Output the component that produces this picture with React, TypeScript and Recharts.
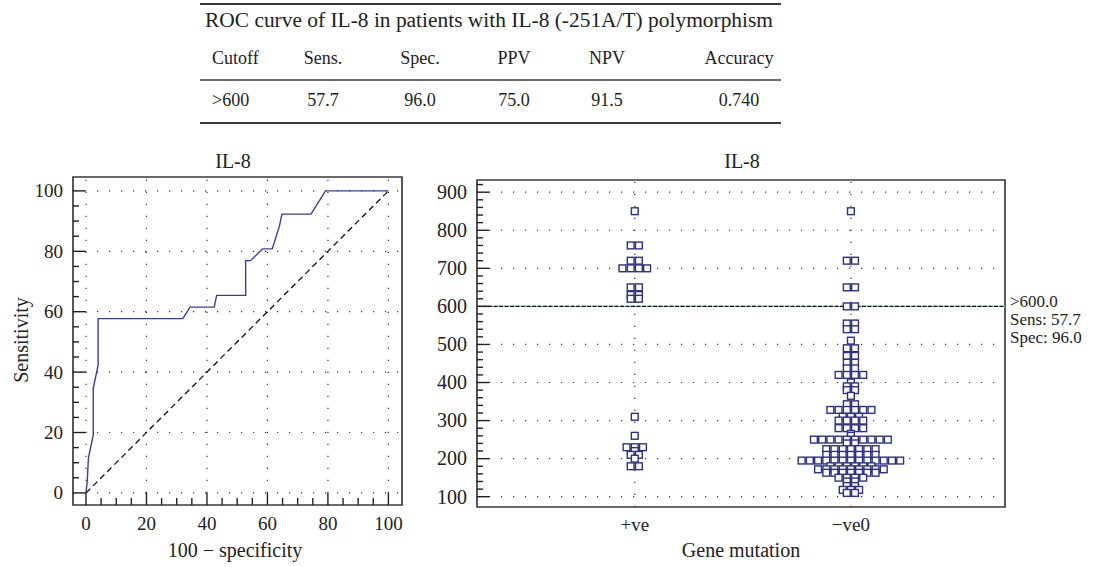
import React from "react"
import {
  ComposedChart,
  Line,
  ReferenceArea,
  ReferenceLine,
  Scatter,
  ScatterChart,
  XAxis,
  YAxis,
} from "recharts"

// Two panels: ROC curve of IL-8 (left) and a dot plot of IL-8 levels by
// gene mutation status with the >600 cutoff (right), under a small table.

const FONT = '"Liberation Serif", "Times New Roman", serif'
const INK = "#222"
const FRAME = "#3a3a3a"
const ROC_BLUE = "#3a3f9c"
const NAVY = "#2d3088"

// table
const TABLE_TITLE = "ROC curve of IL-8 in patients with IL-8 (-251A/T) polymorphism"
const TABLE_HEADERS = ["Cutoff", "Sens.", "Spec.", "PPV", "NPV", "Accuracy"]
const TABLE_VALUES = [">600", "57.7", "96.0", "75.0", "91.5", "0.740"]

// ROC curve: 100 - specificity vs sensitivity
const ROC_FPR = [0, 0.4, 0.8, 2.4, 2.4, 4, 4, 32, 34.4, 42.4, 43.2, 52.8, 52.8, 54.4, 58.4, 61.6, 64, 64.8, 74.4, 79.2, 100]
const ROC_SENS = [0, 3.8, 11.5, 19.2, 34.6, 42.3, 57.7, 57.7, 61.5, 61.5, 65.4, 65.4, 76.9, 76.9, 80.8, 80.8, 88.5, 92.3, 92.3, 100, 100]
const DIAGONAL = [0, 100]
const ROC_TICKS = [0, 5, 10, 15, 20, 25, 30, 35, 40, 45, 50, 55, 60, 65, 70, 75, 80, 85, 90, 95, 100]
const ROC_GRID = [0, 20, 40, 60, 80, 100]
const ROC_X_DOMAIN: [number, number] = [-4.3, 104.5]
const ROC_Y_DOMAIN: [number, number] = [-4, 104.6]

// dot plot: IL-8 values per group
const GROUP_POS = [1, 2]
const GROUP_LABELS = ["+ve", "\u2212ve0"]
const POS_VALUES = [
  850, 760, 760, 720, 720, 700, 700, 700, 700, 650, 650, 630, 630, 620, 620,
  310, 260, 230, 230, 230, 220, 210, 210, 200, 180, 180,
]
const NEG_VALUES = [
  850, 720, 720, 650, 650, 600, 600,
  555, 555, 540, 540, 510, 490, 490, 470, 470, 452, 452, 437, 437,
  420, 420, 420, 420, 400, 390, 390, 380, 380, 365,
  343, 343, 328, 328, 328, 328, 328, 328, 310, 310, 310, 300, 300, 300, 300,
  280, 280, 280, 280, 265, 260,
  250, 250, 250, 250, 250, 250, 250, 250, 250, 250, 240, 240,
  225, 225, 225, 225, 225, 225, 225, 210, 210, 210, 210, 210, 210, 210,
  195, 195, 195, 195, 195, 195, 195, 195, 195, 195, 195, 195, 195,
  180, 180, 180, 180, 180, 180, 172, 172, 172, 172, 172, 172, 172, 172, 172,
  163, 163, 163, 163, 163, 163, 163, 150, 150, 150, 150,
  140, 140, 128, 128, 118, 118, 118, 110, 110,
]
const DOT_Y_TICKS = [
  100, 120, 140, 160, 180, 200, 220, 240, 260, 280, 300, 320, 340, 360, 380, 400,
  420, 440, 460, 480, 500, 520, 540, 560, 580, 600, 620, 640, 660, 680, 700, 720,
  740, 760, 780, 800, 820, 840, 860, 880, 900, 920,
]
const DOT_GRID = [100, 200, 300, 400, 500, 600, 700, 800, 900]
const CUTOFF = 600
const CUTOFF_TEXT = [">600.0", "Sens: 57.7", "Spec: 96.0"]
const DOT_X_DOMAIN: [number, number] = [0.27, 2.713]
const DOT_Y_DOMAIN: [number, number] = [73, 932]
const SWARM_STEP = 0.038 // ~8px horizontal spacing between equal values

const rocRows = ROC_FPR.map((x, i) => ({ x, y: ROC_SENS[i] }))
const diagRows = DIAGONAL.map((v) => ({ x: v, y: v }))

function swarm(values: number[], center: number) {
  const counts = new Map<number, number>()
  values.forEach((v) => counts.set(v, (counts.get(v) ?? 0) + 1))
  const seen = new Map<number, number>()
  return values.map((v) => {
    const n = counts.get(v) ?? 1
    const i = seen.get(v) ?? 0
    seen.set(v, i + 1)
    return { x: center + (i - (n - 1) / 2) * SWARM_STEP, y: v }
  })
}

const posRows = swarm(POS_VALUES, GROUP_POS[0])
const negRows = swarm(NEG_VALUES, GROUP_POS[1])

const dotted = { stroke: "#333", strokeWidth: 1.2, strokeDasharray: "1.2 10.8" }

function yTick(majorStep: number, fontSize: number) {
  return (props: any) => {
    const { x, y, payload } = props
    const v = payload.value as number
    const major = v % majorStep === 0
    return (
      <g>
        <line x1={x} x2={x + (major ? 12 : 6)} y1={y} y2={y} stroke={INK} strokeWidth={1.4} />
        {major && (
          <text x={x - 10} y={y} dy="0.34em" textAnchor="end" fontSize={fontSize} fontFamily={FONT} fill={INK}>
            {v}
          </text>
        )}
      </g>
    )
  }
}

function rocXTick(props: any) {
  const { x, y, payload } = props
  const v = payload.value as number
  const major = v % 20 === 0
  return (
    <g>
      <line x1={x} x2={x} y1={y} y2={y - (major ? 12 : 7)} stroke={INK} strokeWidth={1.4} />
      {major && (
        <text x={x} y={y + 25} textAnchor="middle" fontSize={19} fontFamily={FONT} fill={INK}>
          {v}
        </text>
      )}
    </g>
  )
}

function groupTick(props: any) {
  const { x, y, payload } = props
  const idx = GROUP_POS.indexOf(payload.value)
  return (
    <text x={x} y={y + 24} textAnchor="middle" fontSize={19} fontFamily={FONT} fill={INK}>
      {GROUP_LABELS[idx] ?? ""}
    </text>
  )
}

function Square(props: any) {
  const { cx, cy } = props
  return <rect x={cx - 3.4} y={cy - 3.4} width={6.8} height={6.8} fill="#fff" stroke={NAVY} strokeWidth={1.4} />
}

function CutoffLabel(props: any) {
  const vb = props.viewBox ?? {}
  const x = (vb.x ?? 0) + (vb.width ?? 0) + 5
  const y = vb.y ?? 0
  return (
    <g fontSize={17} fontFamily={FONT} fill={INK}>
      {CUTOFF_TEXT.map((t, i) => (
        <text key={t} x={x} y={y + 1 + i * 18}>
          {t}
        </text>
      ))}
    </g>
  )
}

function RocChart() {
  return (
    <ComposedChart width={420} height={567} margin={{ top: 177, right: 18, bottom: 0, left: 0 }}>
      <XAxis
        type="number"
        dataKey="x"
        domain={ROC_X_DOMAIN}
        ticks={ROC_TICKS}
        interval={0}
        allowDataOverflow
        axisLine={false}
        tickLine={false}
        tickSize={0}
        tickMargin={0}
        height={62}
        tick={rocXTick}
      />
      <YAxis
        type="number"
        domain={ROC_Y_DOMAIN}
        ticks={ROC_TICKS}
        interval={0}
        allowDataOverflow
        axisLine={false}
        tickLine={false}
        tickSize={0}
        tickMargin={0}
        width={73}
        tick={yTick(20, 19)}
      />
      {ROC_GRID.map((v) => (
        <ReferenceLine key={"h" + v} y={v} {...dotted} />
      ))}
      {ROC_GRID.map((v) => (
        <ReferenceLine key={"v" + v} x={v} {...dotted} />
      ))}
      <ReferenceArea
        x1={ROC_X_DOMAIN[0]}
        x2={ROC_X_DOMAIN[1]}
        y1={ROC_Y_DOMAIN[0]}
        y2={ROC_Y_DOMAIN[1]}
        fill="none"
        fillOpacity={0}
        stroke={FRAME}
        strokeWidth={1.7}
      />
      <Line
        data={diagRows}
        dataKey="y"
        type="linear"
        stroke="#111"
        strokeWidth={1.3}
        strokeDasharray="6 4"
        dot={false}
        activeDot={false}
        isAnimationActive={false}
      />
      <Line
        data={rocRows}
        dataKey="y"
        type="linear"
        stroke={ROC_BLUE}
        strokeWidth={1.4}
        dot={false}
        activeDot={false}
        isAnimationActive={false}
      />
    </ComposedChart>
  )
}

function DotChart() {
  return (
    <ScatterChart width={677} height={567} margin={{ top: 180, right: 92, bottom: 0, left: 0 }}>
      <XAxis
        type="number"
        dataKey="x"
        domain={DOT_X_DOMAIN}
        ticks={GROUP_POS}
        interval={0}
        allowDataOverflow
        axisLine={false}
        tickLine={false}
        tickSize={0}
        tickMargin={0}
        height={60}
        tick={groupTick}
      />
      <YAxis
        type="number"
        dataKey="y"
        domain={DOT_Y_DOMAIN}
        ticks={DOT_Y_TICKS}
        interval={0}
        allowDataOverflow
        axisLine={false}
        tickLine={false}
        tickSize={0}
        tickMargin={0}
        width={57}
        tick={yTick(100, 20)}
      />
      {DOT_GRID.map((v) => (
        <ReferenceLine key={"h" + v} y={v} {...dotted} />
      ))}
      {GROUP_POS.map((v) => (
        <ReferenceLine key={"v" + v} x={v} {...dotted} />
      ))}
      <ReferenceLine y={CUTOFF} stroke="#8fd4e2" strokeWidth={1.3} />
      <ReferenceLine
        y={CUTOFF}
        stroke="#111"
        strokeWidth={1.3}
        strokeDasharray="4 1.5"
        label={(p: any) => <CutoffLabel {...p} />}
      />
      <ReferenceArea
        x1={DOT_X_DOMAIN[0]}
        x2={DOT_X_DOMAIN[1]}
        y1={DOT_Y_DOMAIN[0]}
        y2={DOT_Y_DOMAIN[1]}
        fill="none"
        fillOpacity={0}
        stroke={FRAME}
        strokeWidth={1.7}
      />
      <Scatter data={posRows} shape={Square} isAnimationActive={false} />
      <Scatter data={negRows} shape={Square} isAnimationActive={false} />
    </ScatterChart>
  )
}

const TABLE_COL_X = [212, 323, 420, 514, 607, 739]

export default function App() {
  return (
    <div style={{ position: "absolute", left: 0, top: 0, width: 1097, height: 567, background: "#fff", fontFamily: FONT }}>
      <div style={{ position: "absolute", left: 0, top: 0 }}>
        <RocChart />
      </div>
      <div style={{ position: "absolute", left: 420, top: 0 }}>
        <DotChart />
      </div>
      <svg width={1097} height={567} style={{ position: "absolute", left: 0, top: 0, pointerEvents: "none" }}>
        <g fontFamily={FONT} fill={INK}>
          <line x1={200} x2={781} y1={4} y2={4} stroke={FRAME} strokeWidth={1.8} />
          <text x={205} y={27} fontSize={20} textLength={568} lengthAdjust="spacingAndGlyphs">
            {TABLE_TITLE}
          </text>
          {TABLE_HEADERS.map((h, i) => (
            <text key={h} x={TABLE_COL_X[i]} y={64} fontSize={18} textAnchor={i === 0 ? "start" : "middle"}>
              {h}
            </text>
          ))}
          <line x1={200} x2={781} y1={80} y2={80} stroke={FRAME} strokeWidth={1.4} />
          {TABLE_VALUES.map((v, i) => (
            <text key={v} x={TABLE_COL_X[i]} y={106} fontSize={18} textAnchor={i === 0 ? "start" : "middle"}>
              {v}
            </text>
          ))}
          <line x1={200} x2={781} y1={123} y2={123} stroke={FRAME} strokeWidth={1.8} />

          <text x={233} y={168} fontSize={20} textAnchor="middle">
            IL-8
          </text>
          <text x={742} y={168} fontSize={20} textAnchor="middle">
            IL-8
          </text>
          <text transform="translate(28,340) rotate(-90)" fontSize={20} textAnchor="middle">
            Sensitivity
          </text>
          <text x={235} y={557} fontSize={20} textAnchor="middle">
            100 {"\u2212"} specificity
          </text>
          <text x={741} y={557} fontSize={20} textAnchor="middle">
            Gene mutation
          </text>
        </g>
      </svg>
    </div>
  )
}
